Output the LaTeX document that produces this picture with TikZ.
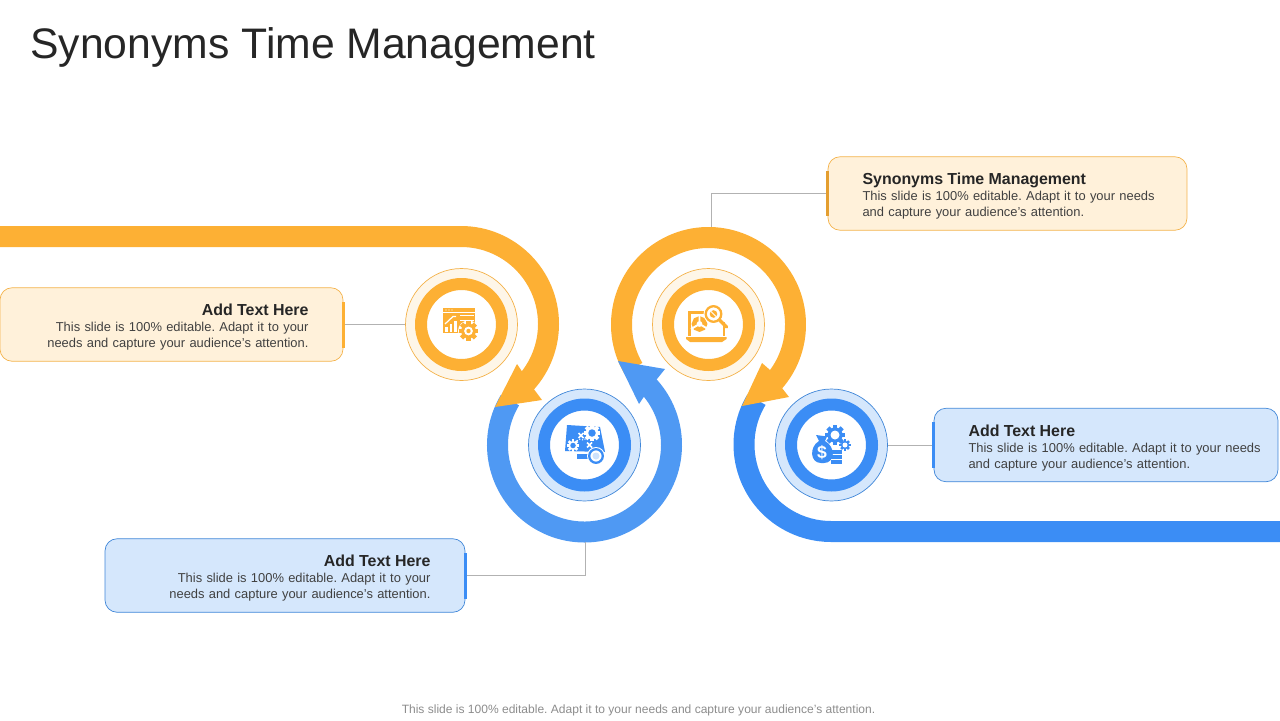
\documentclass[tikz,border=0pt]{standalone}
\usepackage{fontspec}
\setmainfont{Liberation Sans}
\usepackage{tikz}
\definecolor{orangeband}{HTML}{FDB034}
\definecolor{orangepale}{HTML}{FFF1DA}
\definecolor{orangemist}{HTML}{FEF6E8}
\definecolor{orangeedge}{HTML}{F4B24A}
\definecolor{blueband}{HTML}{3B8DF5}
\definecolor{bluesoft}{HTML}{4F99F3}
\definecolor{bluepale}{HTML}{D5E7FC}
\definecolor{blueedge}{HTML}{3F86D8}
\definecolor{inkdark}{HTML}{262626}
\definecolor{inkbody}{HTML}{404040}
\tikzset{
    textbox/.style={
           rectangle,
           rounded corners=.24cm,
           line width=.4pt,
           minimum height=1.47cm,
           inner xsep=.69cm,
           inner ysep=0pt,
           text=inkbody,
           font=\fontsize{7.35}{9.1}\selectfont,
           },
    orangebox/.style={textbox,fill=orangepale,draw=orangeedge},
    bluebox/.style={textbox,fill=bluepale,draw=blueedge},
    accentbar/.style={rectangle,minimum width=.06cm,minimum height=.92cm,inner sep=0pt},
    halo/.style={circle,minimum size=2.24cm,inner sep=0pt,line width=.4pt},
    ringband/.style={circle,minimum size=1.62cm,inner sep=0pt,line width=.24cm,fill=white},
    band/.style={line width=.42cm},
    linkline/.style={draw=black!30,line width=.5pt},
    pics/gearshape/.style 2 args={code={
        \foreach \a in {0,45,90,135}
          \fill[#1,rotate=\a] (-.25,-1.12) rectangle (.25,1.12);
        \fill[#1] (0,0) circle (.84);
        \fill[#2] (0,0) circle (.5);
    }},
}
\newcommand{\boxhead}[1]{{\fontsize{9.07}{9.1}\selectfont\bfseries\color{inkdark}\rule{0pt}{10pt}#1}}

\begin{document}
\frenchspacing
\begin{tikzpicture}[x=.02cm,y=-.02cm]
  \useasboundingbox (0,0) rectangle (1280,720);

  % bands first, the heads lie over them
  \draw[band,orangeband] (0,236.5) -- (461,236.5) arc[start angle=-90,end angle=42,radius=87.5];
  \draw[band,bluesoft] (584.5,445) ++(211:87) arc[start angle=211,end angle=-43,radius=87];
  \draw[band,orangeband] (708.5,324.5) ++(150:87) arc[start angle=150,end angle=401,radius=87];
  \draw[band,blueband] (831,444.5) ++(211:87) arc[start angle=211,end angle=90,radius=87] -- (1280,531.5);

  % arrow heads
  \fill[orangeband] (495,407) -- (542,400) -- (533,388) -- (523,373) -- (517,364) -- cycle;
  \fill[bluesoft] (618,361) -- (665,369) -- (657,379) -- (643,398) -- (639,404) -- cycle;
  \fill[orangeband] (742,406) -- (789,397) -- (782,388) -- (770,370) -- (762,363) -- cycle;

  % circles
  \node[halo,fill=orangemist,draw=orangeedge] (halo1) at (461.5,324.5) {};
  \node[ringband,draw=orangeband]             (ring1) at (461.5,324.5) {};
  \node[halo,fill=bluepale,draw=blueedge]     (halo2) at (584.5,445) {};
  \node[ringband,draw=blueband]               (ring2) at (584.5,445) {};
  \node[halo,fill=orangemist,draw=orangeedge] (halo3) at (708.5,324.5) {};
  \node[ringband,draw=orangeband]             (ring3) at (708.5,324.5) {};
  \node[halo,fill=bluepale,draw=blueedge]     (halo4) at (831.5,445) {};
  \node[ringband,draw=blueband]               (ring4) at (831.5,445) {};

  % text boxes
  \node[orangebox,align=right,text width=5.48cm] (box1) at (171.5,324.5) {\boxhead{Add Text Here}\\This slide is 100\% editable. Adapt it to your\\needs and capture your audience's attention.};
  \node[bluebox,align=right,text width=5.82cm]   (box2) at (285,575.5) {\boxhead{Add Text Here}\\This slide is 100\% editable. Adapt it to your\\needs and capture your audience's attention.};
  \node[orangebox,align=left,text width=5.8cm]   (box3) at (1007.5,193.5) {\boxhead{Synonyms Time Management}\\\mbox{This slide is 100\% editable. Adapt it to your needs}\\and capture your audience's attention.};
  \node[bluebox,align=left,text width=5.5cm]     (box4) at (1106,445) {\boxhead{Add Text Here}\\\mbox{This slide is 100\% editable. Adapt it to your needs}\\and capture your audience's attention.};

  \node[accentbar,fill=orangeband] (bar1) at (box1.east) {};
  \node[accentbar,fill=blueband]   (bar2) at (box2.east) {};
  \node[accentbar,fill=orangeband!90!black] (bar3) at (box3.west) {};
  \node[accentbar,fill=blueband]   (bar4) at (box4.west) {};

  % connectors
  \coordinate (bandtop) at (711.5,226.5);
  \coordinate (bandbot) at (585.5,542);
  \draw[linkline] (bar1.east) -- (halo1.west);
  \draw[linkline] (bar2.east) -| (bandbot);
  \draw[linkline] (bar3.west) -| (bandtop);
  \draw[linkline] (halo4.east) -- (bar4.west);

  % icon: window with chart and gear
  \fill[orangeband] (442.5,308) rectangle (475,332.5);
  \fill[white] (442.5,312) rectangle (475,313);
  \foreach \x in {446,449,452} \fill[white] (\x,310) circle (.6);
  \fill[white] (460,315) rectangle (474,316);
  \fill[white] (460,319.5) rectangle (474,320.5);
  \draw[white,line width=.7pt] (445,324) -- (453,316.5) -- (456,316.5);
  \foreach \x/\y in {445/327,449.5/324,454/321} \fill[white] (\x,\y) rectangle (\x+2.5,331.5);
  \fill[white] (468.5,331) circle (10.5);
  \pic[scale=8.8] at (468.5,331) {gearshape={orangeband}{white}};
  \fill[orangeband] (468.5,331) circle (2.2);

  % icon: map with gears and lens
  \fill[blueband] (567,425) -- (600,427) -- (605,452) -- (565,451) -- cycle;
  \pic[scale=7.5] at (592,433) {gearshape={white}{blueband}};
  \pic[scale=5.5] at (573,445.5) {gearshape={white}{blueband}};
  \draw[white,line width=.6pt,densely dotted] (577,441) .. controls (580,436) and (584,444) .. (586,437);
  \foreach \x/\y in {581/435.5,589.5/445} {
    \draw[white,line width=.9pt] (\x-2.5,\y-2.5) -- (\x+2.5,\y+2.5) (\x-2.5,\y+2.5) -- (\x+2.5,\y-2.5);
  }
  \fill[blueband] (577,454) rectangle (590,459);
  \fill[white] (596,456) circle (9);
  \draw[blueband,line width=1.3pt] (596,456) circle (6.8);
  \fill[blueband!25] (596,456) circle (3.5);

  % icon: laptop with lens
  \draw[orangeband,line width=1.5pt] (689.5,336) -- (689.5,312.5) -- (710,312.5) (724,322) -- (724,336);
  \fill[orangeband] (686,337) -- (726.5,337) -- (726.5,339) -- (722,342) -- (690,342) -- (686,339) -- cycle;
  \draw[orangeband,line width=2.6pt] (699.5,324) circle (5.5);
  \draw[white,line width=1.1pt] (699.5,324) -- (699.5,314) (699.5,324) -- (708,329) (699.5,324) -- (691,329);
  \fill[white] (713.5,314) circle (10);
  \draw[orangeband,line width=1.3pt] (713.5,314) circle (7.8);
  \fill[orangeband] (713.5,314) ellipse (3.8 and 3.8);
  \draw[white,line width=.5pt] (710.5,311) -- (716.5,317);
  \draw[orangeband,line width=2pt,line cap=round] (719.5,320) -- (726.5,327);

  % icon: money bag, coins and gears
  \fill[blueband] (816,435) -- (827,436.5) -- (825,441) .. controls (836,447) and (835,463) .. (824,463)
        -- (821,463) .. controls (810,463) and (809,447) .. (819,441) -- cycle;
  \node[text=white,inner sep=0pt,font=\fontsize{10}{10}\selectfont\bfseries] (bagsign) at (822,453) {\$};
  \foreach \y in {452,457,462} \fill[blueband] (830.5,\y-2) rectangle (842,\y+1.5);
  \pic[scale=9] at (835,435) {gearshape={blueband}{white}};
  \pic[scale=5] at (845,445) {gearshape={blueband}{white}};

  % title and footer
  \node[anchor=west,inner sep=0pt,text=inkdark,font=\fontsize{24.3}{30}\selectfont] (title) at (30,47.5) {Synonyms Time Management};
  \node[inner sep=0pt,text=black!45,font=\fontsize{6.85}{8}\selectfont] (footer) at (638.5,710) {This slide is 100\% editable. Adapt it to your needs and capture your audience's attention.};
\end{tikzpicture}
\end{document}
